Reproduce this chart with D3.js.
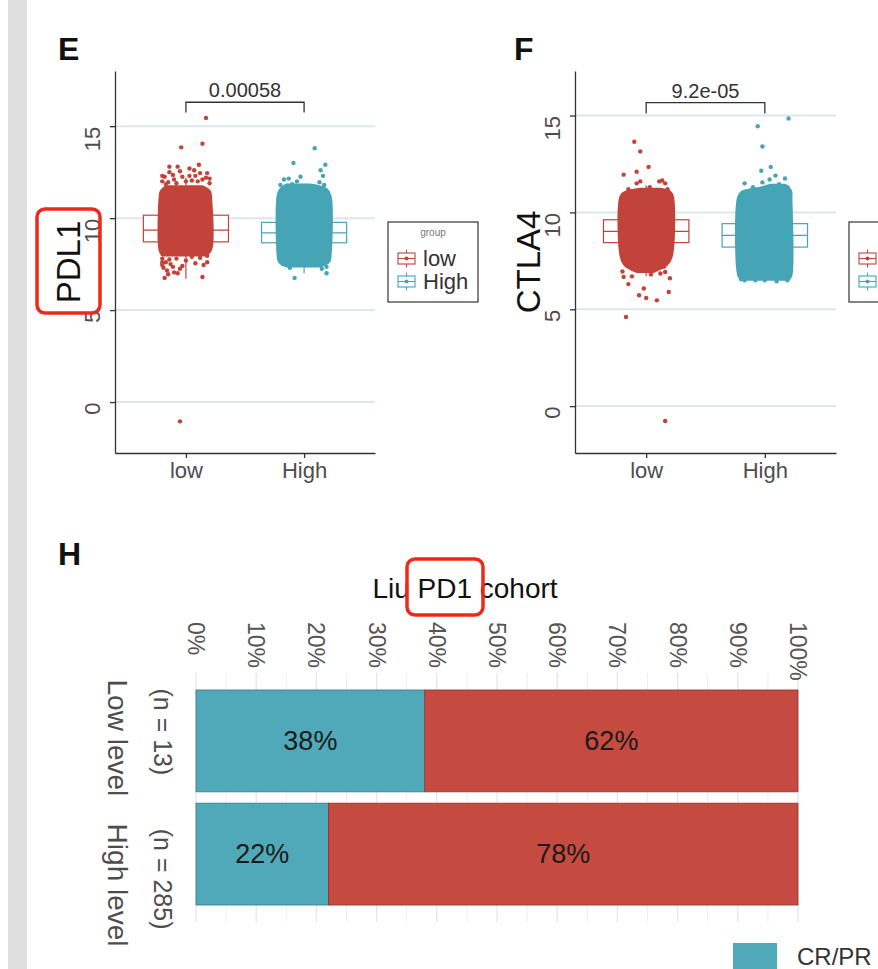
<!DOCTYPE html>
<html>
<head>
<meta charset="utf-8">
<script src="https://cdn.jsdelivr.net/npm/d3@7"></script>
<style>
  body { margin: 0; background: #fff; }
  svg { display: block; font-family: "Liberation Sans", Arial, Helvetica, sans-serif; }
</style>
</head>
<body>
<svg id="fig" width="878" height="969"></svg>
<script>
// ---------- data: panels E / F ----------
const groups = ["low", "High"];
const yTicks = [0, 5, 10, 15];
const genes = ["PDL1", "CTLA4"];
const pValues = ["0.00058", "9.2e-05"];
const pdl1Domain = [-2.77, 18.0];
const ctla4Domain = [-2.42, 17.3];

// [lower whisker, q1, median, q3, upper whisker] for low / High
const pdl1Stats = [[6.7, 8.71, 9.35, 10.16, 12.2], [7.0, 8.66, 9.2, 9.77, 11.4]];
const ctla4Stats = [[6.7, 8.44, 9.02, 9.62, 11.4], [6.5, 8.21, 8.81, 9.42, 11.2]];

// bracket: [top, end of drop]
const pdl1Bracket = [16.3, 15.75];
const ctla4Bracket = [15.67, 15.1];

// the solid part of each jitter cloud: [value, left jitter, right jitter]
const pdl1Core = [
  [[8.0, -0.2, 0.17], [8.3, -0.22, 0.21], [11.0, -0.22, 0.21], [11.45, -0.21, 0.2], [11.7, -0.17, 0.14]],
  [[7.4, -0.15, 0.14], [7.65, -0.21, 0.21], [8.0, -0.22, 0.22], [11.2, -0.22, 0.22], [11.55, -0.2, 0.19], [11.8, -0.15, 0.05]]
];
const ctla4Core = [
  [[6.95, -0.08, 0.06], [7.3, -0.18, 0.17], [7.7, -0.21, 0.21], [10.85, -0.21, 0.22], [11.05, -0.17, 0.2], [11.2, -0.05, 0.12]],
  [[6.55, -0.2, 0.2], [6.75, -0.22, 0.22], [10.8, -0.22, 0.22], [11.05, -0.19, 0.22], [11.25, -0.04, 0.2], [11.4, 0.05, 0.17]]
];

// loose points around the cloud: [jitter, value]
const pdl1Points = [
  [[0.17, 15.45], [-0.04, 13.85], [0.14, 14.05], [-0.14, 12.8], [-0.07, 12.8], [0.03, 12.7], [0.11, 12.9],
   [0.18, 12.45], [-0.18, 12.25], [-0.11, 12.35], [-0.03, 12.25], [0.0, 12.0], [0.08, 12.3], [0.14, 12.1],
   [-0.2, 12.0], [-0.15, 11.95], [0.2, 11.9], [0.05, 12.05], [-0.08, 11.9],
   [-0.2, 12.3], [-0.14, 12.5], [-0.05, 12.55], [0.07, 12.6], [0.12, 12.45], [0.17, 12.2], [-0.17, 11.85],
   [-0.1, 12.1], [0.03, 12.3], [0.1, 12.0], [0.2, 12.15],
   [-0.2, 7.8], [-0.17, 7.6], [-0.14, 7.75], [-0.2, 7.45], [-0.11, 7.35], [-0.16, 7.15], [0.0, 7.7],
   [0.05, 7.9], [0.12, 7.85], [0.18, 7.95], [-0.08, 7.8],
   [-0.19, 7.3], [-0.15, 6.95], [-0.18, 6.75], [-0.1, 7.05], [-0.03, 7.4], [-0.07, 7.0], [0.14, 6.8],
   [0.08, 7.55], [-0.13, 7.5], [0.15, 7.45], [-0.2, 7.6], [0.18, 7.6], [-0.05, 7.25], [-0.05, -1.05]],
  [[0.09, 13.8], [-0.09, 13.0], [0.18, 12.9], [0.14, 12.6], [-0.03, 12.25], [0.16, 12.3], [-0.17, 12.1],
   [-0.13, 12.15], [-0.06, 12.0], [0.13, 11.95], [0.19, 11.35], [0.17, 11.8], [-0.2, 11.8], [-0.1, 11.85],
   [0.0, 11.75], [0.19, 7.35], [-0.08, 6.75], [0.1, 7.5], [-0.18, 7.5], [0.03, 7.45], [-0.12, 7.3],
   [0.15, 7.25], [0.19, 7.0]]
];
const ctla4Points = [
  [[-0.1, 13.65], [-0.05, 13.15], [0.02, 12.35], [-0.19, 11.95], [-0.08, 12.1], [0.135, 11.65], [0.16, 11.5],
   [-0.08, 11.5], [-0.05, 11.6], [0.03, 11.3], [0.11, 11.6], [-0.15, 11.2], [0.18, 11.2], [0.06, 11.1],
   [-0.19, 6.67], [-0.15, 6.3], [-0.02, 6.07], [-0.06, 5.72], [0.0, 5.58], [0.09, 5.46], [0.19, 5.89],
   [0.16, 6.92], [0.12, 6.85], [-0.2, 6.95], [-0.17, 4.6], [0.2, 6.6], [-0.12, 6.7], [0.15, 7.2],
   [-0.16, 7.25], [0.04, 6.8], [0.16, -0.77]],
  [[0.2, 14.85], [-0.06, 14.45], [-0.02, 13.4], [-0.03, 12.15], [0.05, 12.35], [0.09, 11.9], [0.04, 11.7],
   [0.17, 11.75], [-0.17, 11.5], [-0.02, 11.55], [0.12, 11.45], [-0.1, 11.3], [0.19, 11.3],
   [-0.17, 6.5], [0.19, 6.5], [-0.2, 6.55], [0.0, 6.5], [0.1, 6.45], [-0.08, 6.5]]
];

// ---------- data: panel H ----------
const levels = ["Low level", "High level"];
const levelN = [13, 285];
const crPr = [38, 22];
const pdSd = [62, 78];
const pctTicks = [0, 10, 20, 30, 40, 50, 60, 70, 80, 90, 100];
const pctMinor = [5, 15, 25, 35, 45, 55, 65, 75, 85, 95];

const red = "#C2433A", cyan = "#45A5B6";
const groupColor = [red, cyan];
const barTeal = "#4FA9B8", barRed = "#C54B41";
const W = 878;

const svg = d3.select("#fig");

// grey strip on the left
svg.append("rect").attr("x", 8).attr("y", 0).attr("width", 19).attr("height", 969).attr("fill", "#dedede");

function boxPanel(o) {
  const x = d3.scaleLinear().domain([0.4, 2.6]).range([o.left, o.right]);
  const y = d3.scaleLinear().domain(o.domain).range([453, 71]);
  const g = svg.append("g");

  // grid
  g.selectAll("line.grid").data(yTicks).join("line")
    .attr("class", "grid")
    .attr("x1", o.left).attr("x2", o.right)
    .attr("y1", d => y(d)).attr("y2", d => y(d))
    .attr("stroke", "#dde8ea").attr("stroke-width", 2);

  // boxes
  o.stats.forEach((s, i) => {
    const cx = x(i + 1), hw = x(1.36) - x(1);
    const c = groupColor[i];
    g.append("line").attr("x1", cx).attr("x2", cx).attr("y1", y(s[0])).attr("y2", y(s[1]))
      .attr("stroke", c).attr("stroke-width", 1.2);
    g.append("line").attr("x1", cx).attr("x2", cx).attr("y1", y(s[3])).attr("y2", y(s[4]))
      .attr("stroke", c).attr("stroke-width", 1.2);
    g.append("rect").attr("x", cx - hw).attr("y", y(s[3]))
      .attr("width", 2 * hw).attr("height", y(s[1]) - y(s[3]))
      .attr("fill", "#fff").attr("stroke", c).attr("stroke-width", 1.2);
    g.append("line").attr("x1", cx - hw).attr("x2", cx + hw).attr("y1", y(s[2])).attr("y2", y(s[2]))
      .attr("stroke", c).attr("stroke-width", 1.2);
  });

  // jitter clouds
  o.core.forEach((rows, i) => {
    const area = d3.area()
      .y(d => y(d[0]))
      .x0(d => x(i + 1 + d[1]))
      .x1(d => x(i + 1 + d[2]))
      .curve(d3.curveCatmullRom);
    g.append("path").attr("d", area(rows))
      .attr("fill", groupColor[i]).attr("stroke", groupColor[i])
      .attr("stroke-width", 3).attr("stroke-linejoin", "round");
  });
  o.points.forEach((pts, i) => {
    g.selectAll(null).data(pts).join("circle")
      .attr("cx", d => x(i + 1 + d[0]))
      .attr("cy", d => y(d[1]))
      .attr("r", 2.2)
      .attr("fill", groupColor[i]);
  });

  // axes
  const ya = g.append("g").attr("transform", `translate(${o.left},0)`)
    .call(d3.axisLeft(y).tickValues(yTicks).tickSize(5).tickSizeOuter(0));
  ya.select(".domain").attr("stroke", "#333").attr("stroke-width", 1.3);
  ya.selectAll(".tick line").attr("stroke", "#333").attr("stroke-width", 1.3);
  ya.selectAll(".tick text")
    .attr("x", 0).attr("dy", 0)
    .attr("transform", "translate(-15,0) rotate(-90)")
    .attr("text-anchor", "end")
    .attr("font-size", 22).attr("font-family", null).attr("fill", "#4d4d4d");

  const xa = g.append("g").attr("transform", "translate(0,453)")
    .call(d3.axisBottom(x).tickValues([1, 2]).tickFormat(d => groups[d - 1]).tickSize(5).tickSizeOuter(0));
  xa.select(".domain").attr("stroke", "#333").attr("stroke-width", 1.3);
  xa.selectAll(".tick line").attr("stroke", "#333").attr("stroke-width", 1.3);
  xa.selectAll(".tick text").attr("y", 9)
    .attr("font-size", 22).attr("font-family", null).attr("fill", "#4d4d4d");

  // axis title
  g.append("text")
    .attr("transform", `translate(${o.left - 35},${(71 + 453) / 2}) rotate(-90)`)
    .attr("text-anchor", "middle")
    .attr("font-size", 33).attr("fill", "#111")
    .text(o.gene);

  // panel letter
  g.append("text").attr("x", o.letterX).attr("y", 60)
    .attr("font-size", 32).attr("font-weight", "bold").attr("fill", "#111")
    .text(o.letter);

  // p value bracket
  const x1 = x(1), x2 = x(2);
  const b0 = y(o.bracket[0]), b1 = y(o.bracket[1]);
  g.append("path")
    .attr("d", `M${x1},${b1}V${b0}H${x2}V${b1}`)
    .attr("fill", "none").attr("stroke", "#333").attr("stroke-width", 1.3);
  g.append("text").attr("x", (x1 + x2) / 2).attr("y", b0 - 5)
    .attr("text-anchor", "middle").attr("font-size", 20).attr("fill", "#333")
    .text(o.p);

  // legend (the one of panel F runs off the picture: only its box and keys show)
  const lx = o.right + 13;
  const showText = lx + 90 <= W;
  const lg = g.append("g").attr("transform", `translate(${lx},222)`);
  lg.append("rect").attr("width", 90).attr("height", 80)
    .attr("fill", "#fff").attr("stroke", "#333").attr("stroke-width", 1.2);
  if (showText) {
    lg.append("text").attr("x", 45).attr("y", 14).attr("text-anchor", "middle")
      .attr("font-size", 10).attr("fill", "#777").text("group");
  }
  groups.forEach((name, i) => {
    const cy = 36.5 + i * 23, c = groupColor[i];
    const k = lg.append("g").attr("transform", `translate(18.5,${cy})`);
    k.append("line").attr("y1", -9).attr("y2", 9).attr("stroke", c).attr("stroke-width", 1.1);
    k.append("rect").attr("x", -8.5).attr("y", -5.5).attr("width", 17).attr("height", 11)
      .attr("fill", "#fff").attr("stroke", c).attr("stroke-width", 1.1);
    k.append("line").attr("x1", -8.5).attr("x2", 8.5).attr("stroke", c).attr("stroke-width", 1.1);
    k.append("circle").attr("r", 2).attr("fill", c);
    if (showText) {
      lg.append("text").attr("x", 35).attr("y", cy).attr("dominant-baseline", "central")
        .attr("font-size", 22).attr("fill", "#333").text(name);
    }
  });
}

boxPanel({ left: 115, right: 375, domain: pdl1Domain, stats: pdl1Stats, core: pdl1Core,
  points: pdl1Points, gene: genes[0], letter: "E", letterX: 58, bracket: pdl1Bracket, p: pValues[0] });
boxPanel({ left: 575, right: 836, domain: ctla4Domain, stats: ctla4Stats, core: ctla4Core,
  points: ctla4Points, gene: genes[1], letter: "F", letterX: 514, bracket: ctla4Bracket, p: pValues[1] });

// ---------- panel H ----------
const xP = d3.scaleLinear().domain([0, 100]).range([196, 798]);
const yB = d3.scaleLinear().domain([0.4, 2.6]).range([673, 922]);
const h = svg.append("g");

h.append("text").attr("x", 58).attr("y", 565)
  .attr("font-size", 32).attr("font-weight", "bold").attr("fill", "#111").text("H");

h.append("text").attr("x", 465).attr("y", 598).attr("text-anchor", "middle")
  .attr("font-size", 28).attr("fill", "#111").text("Liu PD1 cohort");

h.selectAll("line.minor").data(pctMinor).join("line")
  .attr("x1", d => xP(d)).attr("x2", d => xP(d)).attr("y1", 673).attr("y2", 922)
  .attr("stroke", "#eeeeee").attr("stroke-width", 1);
h.selectAll("line.major").data(pctTicks).join("line")
  .attr("x1", d => xP(d)).attr("x2", d => xP(d)).attr("y1", 673).attr("y2", 922)
  .attr("stroke", "#e4e4e4").attr("stroke-width", 1.2);

h.selectAll("text.tick").data(pctTicks).join("text")
  .attr("transform", d => `translate(${xP(d)},622) rotate(90)`)
  .attr("dominant-baseline", "central")
  .attr("font-size", 23).attr("fill", "#555")
  .text(d => d + "%");

const rows = levels.map((name, i) => ({ name, n: levelN[i], parts: [
  { from: 0, to: crPr[i], fill: barTeal },
  { from: crPr[i], to: crPr[i] + pdSd[i], fill: barRed }
] }));
const barH = yB(1.45) - yB(1);
rows.forEach((r, i) => {
  const cy = yB(i + 1);
  r.parts.forEach(p => {
    h.append("rect").attr("x", xP(p.from)).attr("y", cy - barH)
      .attr("width", xP(p.to) - xP(p.from)).attr("height", 2 * barH)
      .attr("fill", p.fill).attr("stroke", d3.color(p.fill).darker(0.9)).attr("stroke-width", 0.8);
    h.append("text").attr("x", (xP(p.from) + xP(p.to)) / 2).attr("y", cy)
      .attr("text-anchor", "middle").attr("dominant-baseline", "central")
      .attr("font-size", 27).attr("fill", "#1a1a1a")
      .text((p.to - p.from) + "%");
  });
});

// row labels (rotated, as in the original)
const labelShift = [-3, 31];
rows.forEach((r, i) => {
  const cy = yB(i + 1) + labelShift[i];
  h.append("text").attr("transform", `translate(117,${cy}) rotate(90)`)
    .attr("text-anchor", "middle").attr("dominant-baseline", "central")
    .attr("font-size", 28).attr("fill", "#4d4d4d").text(r.name);
  h.append("text").attr("transform", `translate(163,${cy - 6}) rotate(90)`)
    .attr("text-anchor", "middle").attr("dominant-baseline", "central")
    .attr("font-size", 25).attr("fill", "#4d4d4d").text(`(n = ${r.n})`);
});

// legend (only the first key is inside the picture)
h.append("rect").attr("x", 733).attr("y", 943).attr("width", 44).attr("height", 44).attr("fill", barTeal);
h.append("text").attr("x", 797).attr("y", 956).attr("dominant-baseline", "central")
  .attr("font-size", 24).attr("fill", "#333").text("CR/PR");

// red annotation boxes
svg.append("rect").attr("x", 37).attr("y", 209).attr("width", 63).attr("height", 104).attr("rx", 8)
  .attr("fill", "none").attr("stroke", "#ec2a1c").attr("stroke-width", 3.5);
svg.append("rect").attr("x", 407).attr("y", 559).attr("width", 76).attr("height", 56).attr("rx", 8)
  .attr("fill", "none").attr("stroke", "#ec2a1c").attr("stroke-width", 3.5);
</script>
</body>
</html>
